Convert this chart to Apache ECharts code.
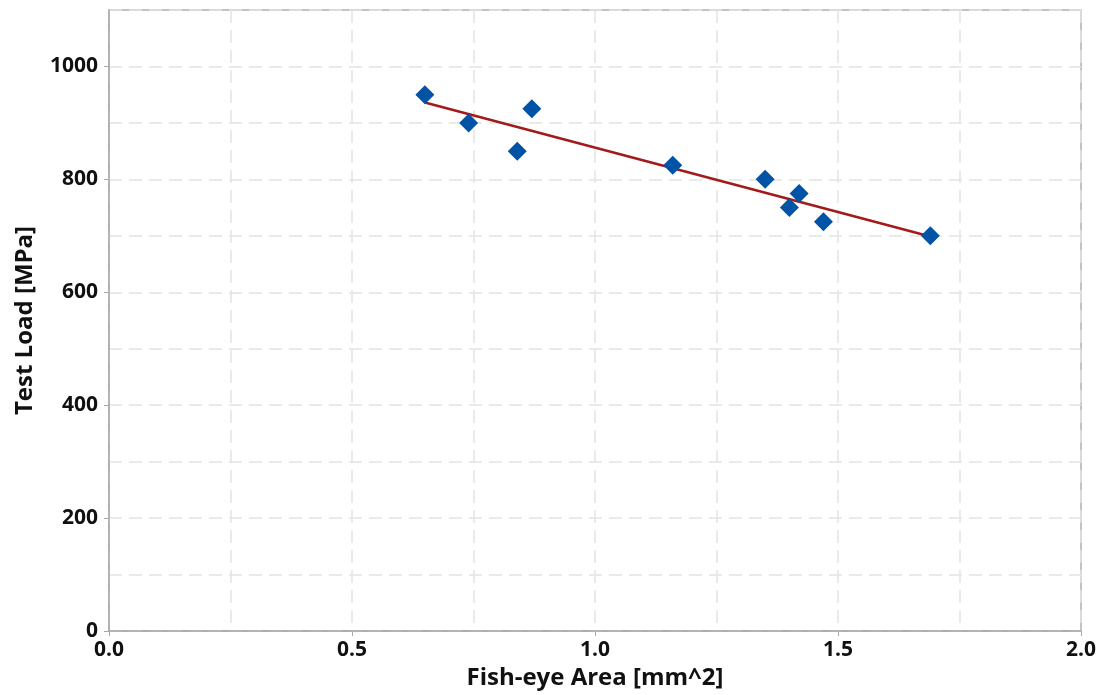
<!DOCTYPE html>
<html>
<head>
<meta charset="utf-8">
<script src="https://cdn.jsdelivr.net/npm/echarts@6/dist/echarts.min.js"></script>
<style>
  html, body { margin: 0; padding: 0; background: #fff; overflow: hidden; }
  #chart { width: 1102px; height: 695px; }
</style>
</head>
<body>
<div id="chart"></div>
<script>
// Fish-eye area of each specimen and the test load it failed at
const fishEyeArea = [0.65, 0.74, 0.84, 0.87, 1.16, 1.35, 1.42, 1.40, 1.47, 1.69];
const testLoad = [950, 900, 850, 925, 825, 800, 775, 750, 725, 700];

const xTitle = 'Fish-eye Area [mm^2]';
const yTitle = 'Test Load [MPa]';

// Least-squares fit line over the measured range
function linearFit(xs, ys) {
  const n = xs.length;
  const mx = xs.reduce((a, b) => a + b, 0) / n;
  const my = ys.reduce((a, b) => a + b, 0) / n;
  let sxy = 0, sxx = 0;
  for (let i = 0; i < n; i++) {
    sxy += (xs[i] - mx) * (ys[i] - my);
    sxx += (xs[i] - mx) * (xs[i] - mx);
  }
  const slope = sxy / sxx;
  return { slope, intercept: my - slope * mx };
}
const fit = linearFit(fishEyeArea, testLoad);
const xMin = Math.min(...fishEyeArea), xMax = Math.max(...fishEyeArea);
const fitLine = [
  [xMin, fit.intercept + fit.slope * xMin],
  [xMax, fit.intercept + fit.slope * xMax]
];

const font = '"Open Sans", "Noto Sans", sans-serif';
const gridLine = { color: '#e4e4e4', width: 1.5, type: [13, 7] };
const axisLine = { lineStyle: { color: '#a8a8a8', width: 1.5 } };

const chart = echarts.init(document.getElementById('chart'), null, { renderer: 'canvas' });
chart.setOption({
  animation: false,
  backgroundColor: '#fff',
  grid: {
    left: 109, right: 21, top: 10, bottom: 64,
    show: true, borderColor: '#b0b0b0', borderWidth: 1.5, containLabel: false
  },
  xAxis: {
    type: 'value',
    min: 0, max: 2, interval: 0.5,
    name: xTitle,
    nameLocation: 'middle',
    nameGap: 34,
    nameTextStyle: { fontFamily: font, fontWeight: 'bold', fontSize: 24, color: '#111' },
    axisLine: axisLine,
    axisTick: { show: true, length: 5, lineStyle: { color: '#a8a8a8' } },
    axisLabel: {
      fontFamily: font, fontWeight: 'bold', fontSize: 21, color: '#111', margin: 9,
      formatter: v => v.toFixed(1)
    },
    splitLine: { show: true, lineStyle: gridLine },
    minorTick: { show: false, splitNumber: 2 },
    minorSplitLine: { show: true, lineStyle: gridLine }
  },
  yAxis: {
    type: 'value',
    min: 0, max: 1100, interval: 200,
    name: yTitle,
    nameLocation: 'middle',
    nameGap: 72,
    nameTextStyle: { fontFamily: font, fontWeight: 'bold', fontSize: 24, color: '#111' },
    axisLine: { show: true, lineStyle: axisLine.lineStyle },
    axisTick: { show: true, length: 5, lineStyle: { color: '#a8a8a8' } },
    axisLabel: {
      fontFamily: font, fontWeight: 'bold', fontSize: 21, color: '#111', margin: 11,
      showMaxLabel: false,
      formatter: v => String(v)
    },
    splitLine: { show: true, lineStyle: gridLine },
    minorTick: { show: false, splitNumber: 2 },
    minorSplitLine: { show: true, lineStyle: gridLine }
  },
  series: [
    {
      type: 'line',
      data: fitLine,
      symbol: 'none',
      lineStyle: { color: '#a31a1a', width: 2.5 },
      z: 2
    },
    {
      type: 'scatter',
      data: fishEyeArea.map((x, i) => [x, testLoad[i]]),
      symbol: 'diamond',
      symbolSize: 19,
      itemStyle: { color: '#0053a5', opacity: 1 },
      z: 3
    }
  ]
});
</script>
</body>
</html>
